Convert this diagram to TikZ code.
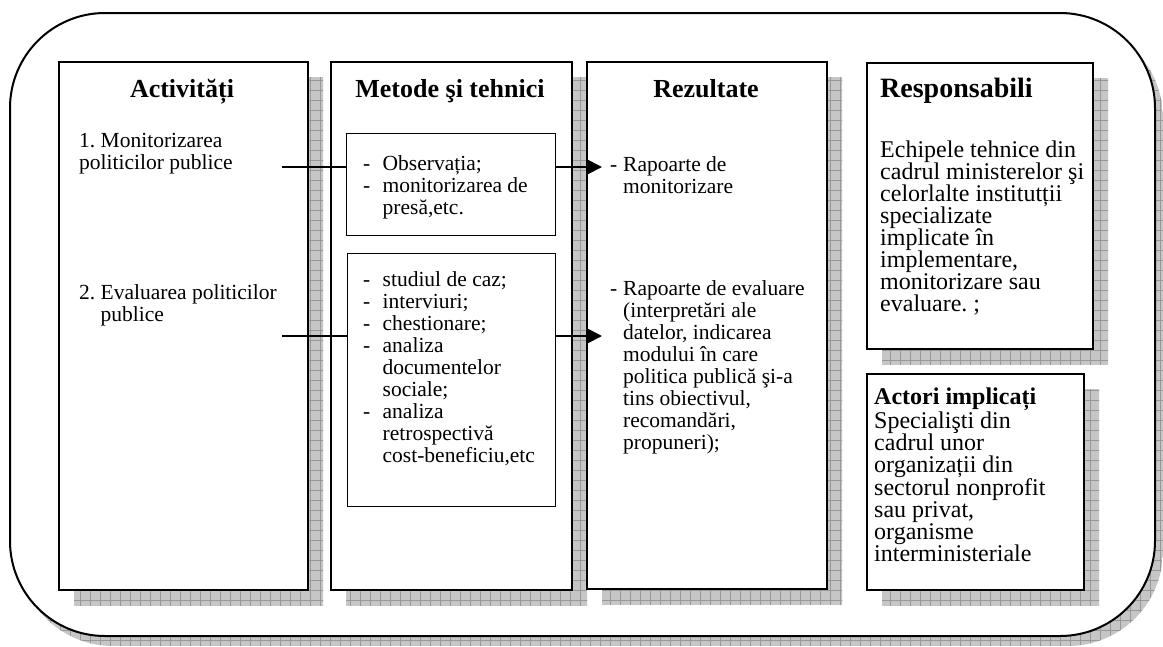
\documentclass[tikz,border=0pt]{standalone}
\usepackage{fontspec}
\setmainfont{Liberation Serif}
\usetikzlibrary{arrows.meta}
\frenchspacing

\definecolor{shadowfill}{RGB}{198,198,198}
\definecolor{shadowline}{RGB}{152,152,152}

% hatched drop shadow clipped to the given path
\newcommand{\gridshadow}[1]{%
  \begin{scope}
    \clip #1;
    \fill[shadowfill] (0,0) rectangle (1163,646);
    \draw[shadowline, line width=0.5pt, step=10pt] (0,0) grid (1163,646);
  \end{scope}}

\newcommand{\headfont}{\fontsize{26}{30}\selectfont\bfseries}
\newcommand{\bodyfont}{\fontsize{21.5}{22}\selectfont}
\newcommand{\sidefont}{\fontsize{24}{22}\selectfont}
\newcommand{\dashitem}{\makebox[19.5pt][l]{-}}
\newcommand{\contitem}{\hspace*{19.5pt}}
\newcommand{\resitem}{\makebox[13pt][l]{-}}
\newcommand{\rescont}{\hspace*{13pt}}

\begin{document}
\begin{tikzpicture}[x=1pt, y=-1pt,
  colbox/.style={draw, line width=2pt, fill=white, inner sep=0pt, anchor=north west},
  innerbox/.style={draw, line width=1.4pt, fill=white, inner sep=0pt, anchor=north west},
  head/.style={font=\headfont, inner sep=0pt, anchor=base},
  txt/.style={inner sep=0pt, align=left, anchor=north west},
  conn/.style={line width=1.8pt},
  arr/.style={conn, -{Triangle[length=15pt, width=15pt]}}]

\useasboundingbox (0,0) rectangle (1163,646);

% outer frame with its shadow
\gridshadow{[rounded corners=95pt] (18,23) rectangle (1163,646)}
\draw[line width=2pt, fill=white, rounded corners=95pt] (10,13) rectangle (1155,636);

% column shadows
\gridshadow{(74,77) rectangle (323,605)}
\gridshadow{(346,77) rectangle (587,605)}
\gridshadow{(602,77) rectangle (842,604)}
\gridshadow{(882,78) rectangle (1108,364)}
\gridshadow{(882,389) rectangle (1099,605)}

% columns
\node[colbox, minimum width=249pt, minimum height=528pt] (act) at (58,61) {};
\node[colbox, minimum width=241pt, minimum height=528pt] (met) at (330,61) {};
\node[colbox, minimum width=240pt, minimum height=527pt] (rez) at (586,61) {};
\node[colbox, minimum width=226pt, minimum height=286pt] (resp) at (866,62) {};
\node[colbox, minimum width=217pt, minimum height=216pt] (actori) at (866,373) {};

% method boxes
\node[innerbox, minimum width=209pt, minimum height=102pt] (metA) at (346,133) {};
\node[innerbox, minimum width=208pt, minimum height=253pt] (metB) at (347,253) {};

% headings
\node[head] (hAct) at (182,97) {Activități};
\node[head] (hMet) at (450,97) {Metode şi tehnici};
\node[head] (hRez) at (706,97) {Rezultate};
\node[head, anchor=base west, font=\fontsize{28}{32}\selectfont\bfseries] (hResp) at (880,97) {Responsabili};

% activities
\node[txt, font=\bodyfont] (act1) at (79,133) {1. Monitorizarea\\politicilor publice};
\node[txt, font=\bodyfont] (act2) at (79,284) {2. Evaluarea politicilor\\\hphantom{2.\ }publice};

% methods
\node[txt, font=\bodyfont] (metAtxt) at (363,155)
  {\dashitem Observația;\\\dashitem monitorizarea de\\\contitem presă,etc.};
\node[txt, font=\bodyfont] (metBtxt) at (363,271)
  {\dashitem studiul de caz;\\\dashitem interviuri;\\\dashitem chestionare;\\%
   \dashitem analiza\\\contitem documentelor\\\contitem sociale;\\%
   \dashitem analiza\\\contitem retrospectivă\\\contitem cost-beneficiu,etc};

% results
\node[txt, font=\bodyfont] (rez1) at (610,156) {\resitem Rapoarte de\\\rescont monitorizare};
\node[txt, font=\bodyfont] (rez2) at (610,280)
  {\resitem Rapoarte de evaluare\\\rescont (interpretări ale\\\rescont datelor, indicarea\\%
   \rescont modului în care\\\rescont politica publică şi-a\\\rescont tins obiectivul,\\%
   \rescont recomandări,\\\rescont propuneri);};

% responsible bodies
\node[txt, font=\sidefont] (respTxt) at (880,141)
  {Echipele tehnice din\\cadrul ministerelor şi\\celorlalte institutții\\specializate\\%
   implicate în\\implementare,\\monitorizare sau\\evaluare. ;};
\node[txt, font=\sidefont] (actTxt) at (874,388)
  {\textbf{Actori implicați}\\Specialişti din\\cadrul unor\\organizații din\\%
   sectorul nonprofit\\sau privat,\\organisme\\interministeriale};

% connectors
\coordinate (s1) at (282,167);
\coordinate (t1) at (602,167);
\coordinate (s2) at (282,336);
\coordinate (t2) at (602,336);
\draw[conn] (s1) -- (s1 -| metA.west);
\draw[arr] (metA.east |- s1) -- (t1);
\draw[conn] (s2) -- (s2 -| metB.west);
\draw[arr] (metB.east |- s2) -- (t2);

\end{tikzpicture}
\end{document}
